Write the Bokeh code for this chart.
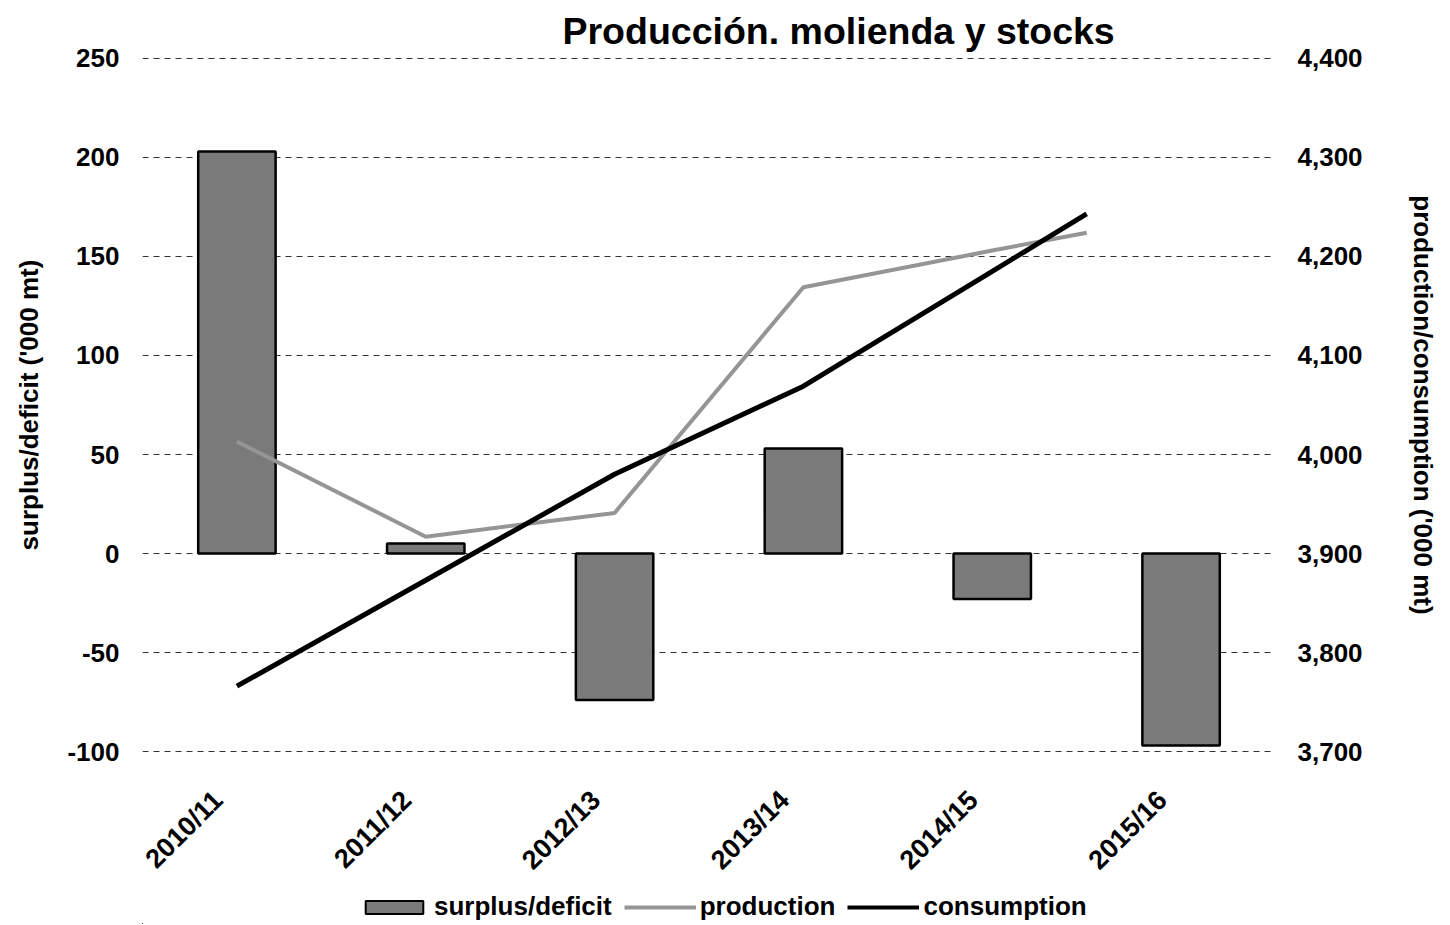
from bokeh.plotting import figure
from bokeh.models import (Range1d, LinearAxis, FixedTicker, NumeralTickFormatter,
                          Legend, LegendItem, ColumnDataSource)
from bokeh.layouts import column
from bokeh.embed import file_html
from bokeh.resources import INLINE
import math

# ---- data ----
categories = ["2010/11", "2011/12", "2012/13", "2013/14", "2014/15", "2015/16"]
surplus_deficit = [203, 5, -74, 53, -23, -97]
production = [4013, 3917, 3941, 4169, 4206, 4224]
consumption = [3766, 3873, 3980, 4069, 4185, 4243]
left_ticks = [-100, -50, 0, 50, 100, 150, 200, 250]
right_ticks = [3700, 3800, 3900, 4000, 4100, 4200, 4300, 4400]

FONT = "Liberation Sans"
BAR_FILL = "#7a7a7a"
PROD_COLOR = "#959595"
W = 1445
H_MAIN = 889
H_LEG = 35
n = len(categories)
bar_x = [i + 0.5 for i in range(n)]
label_x = [i + 0.4 for i in range(n)]
# line points: category centres, last point drawn at the end of the 2014/15 slot
line_x = [i + 0.5 for i in range(n)]
line_x[-1] = n - 1.0

p = figure(width=W, height=H_MAIN, output_backend="svg", toolbar_location=None,
           x_range=Range1d(0, n),
           y_range=Range1d(left_ticks[0] - 0.5, left_ticks[-1] + 0.5),
           min_border_left=142, min_border_right=W - 1275, min_border_top=57,
           min_border_bottom=H_MAIN - 752)
p.outline_line_color = None
p.background_fill_color = "white"
p.border_fill_color = "white"

p.extra_y_ranges = {"right": Range1d(right_ticks[0] - 1, right_ticks[-1] + 1)}

# title
p.title.text = "Producción. molienda y stocks"
p.title.text_font = FONT
p.title.text_font_style = "bold"
p.title.text_font_size = "37.5px"
p.title.text_color = "black"
p.title.align = "left"
p.title.offset = 420
p.title.standoff = 11

# bars
src_bar = ColumnDataSource(dict(x=bar_x, top=surplus_deficit))
bars = p.vbar(x="x", top="top", bottom=0, width=0.41, source=src_bar,
              fill_color=BAR_FILL, line_color="black", line_width=2.5)

# lines
prod = p.line(line_x, production, y_range_name="right", line_color=PROD_COLOR,
              line_width=4)
cons = p.line(line_x, consumption, y_range_name="right", line_color="black",
              line_width=5)

# axes
xa = p.xaxis[0]
xa.ticker = FixedTicker(ticks=label_x)
xa.major_label_overrides = {x: c for x, c in zip(label_x, categories)}
xa.major_label_orientation = math.pi / 4
xa.axis_line_color = None
xa.major_tick_line_color = None
xa.minor_tick_line_color = None
xa.major_label_text_font = FONT
xa.major_label_text_font_style = "bold"
xa.major_label_text_font_size = "27px"
xa.major_label_text_color = "black"
xa.major_label_standoff = 37

ya = p.yaxis[0]
ya.ticker = FixedTicker(ticks=left_ticks)
ya.major_label_overrides = {t: str(t) for t in left_ticks}
ya.axis_line_color = None
ya.major_tick_line_color = None
ya.minor_tick_line_color = None
ya.major_label_text_font = FONT
ya.major_label_text_font_style = "bold"
ya.major_label_text_font_size = "26px"
ya.major_label_text_color = "black"
ya.major_label_standoff = 17
ya.axis_label = "surplus/deficit ('000 mt)"
ya.axis_label_text_font = FONT
ya.axis_label_text_font_style = "bold"
ya.axis_label_text_font_size = "26px"
ya.axis_label_text_color = "black"
ya.axis_label_standoff = 20

ra = LinearAxis(y_range_name="right", ticker=FixedTicker(ticks=right_ticks),
                formatter=NumeralTickFormatter(format="0,0"))
ra.axis_line_color = None
ra.major_tick_line_color = None
ra.minor_tick_line_color = None
ra.major_label_text_font = FONT
ra.major_label_text_font_style = "bold"
ra.major_label_text_font_size = "26px"
ra.major_label_text_color = "black"
ra.major_label_standoff = 16
ra.axis_label = "production/consumption ('000 mt)"
ra.axis_label_text_font = FONT
ra.axis_label_text_font_style = "bold"
ra.axis_label_text_font_size = "26px"
ra.axis_label_text_color = "black"
ra.axis_label_standoff = 42
p.add_layout(ra, "right")

# grid
p.xgrid.grid_line_color = None
p.ygrid.ticker = FixedTicker(ticks=left_ticks)
p.ygrid.grid_line_color = "#333333"
p.ygrid.grid_line_width = 1.2
p.ygrid.grid_line_dash = "6 5"

# legend strip (separate small figure below the chart); its proxy glyphs use
# the same data but sit outside the strip's visible range
lg = figure(width=W, height=H_LEG, output_backend="svg", toolbar_location=None,
            x_range=Range1d(100, 101), y_range=Range1d(100000, 100001),
            x_axis_location=None, y_axis_location=None,
            min_border_left=0, min_border_right=0, min_border_top=0,
            min_border_bottom=0)
lg.outline_line_color = None
lg.border_fill_color = "white"
lg.grid.visible = False
lg_bar = lg.vbar(x=bar_x, top=surplus_deficit, width=0.41, fill_color=BAR_FILL,
                 line_color="black", line_width=2)
lg_prod = lg.line(line_x, production, line_color=PROD_COLOR, line_width=4)
lg_cons = lg.line(line_x, consumption, line_color="black", line_width=4)

legend = Legend(items=[
    LegendItem(label="surplus/deficit", renderers=[lg_bar]),
    LegendItem(label="production", renderers=[lg_prod]),
    LegendItem(label="consumption", renderers=[lg_cons]),
], orientation="horizontal", location=(216, 2))
legend.label_text_font = FONT
legend.label_text_font_style = "bold"
legend.label_text_font_size = "26px"
legend.label_text_color = "black"
legend.glyph_width = 72
legend.glyph_height = 16
legend.spacing = 12
legend.label_standoff = 4
legend.border_line_color = None
legend.background_fill_alpha = 0
legend.padding = 0
legend.margin = 0
lg.add_layout(legend, "center")

layout = column(p, lg, spacing=0)
open("out.html", "w").write(file_html(layout, INLINE))
